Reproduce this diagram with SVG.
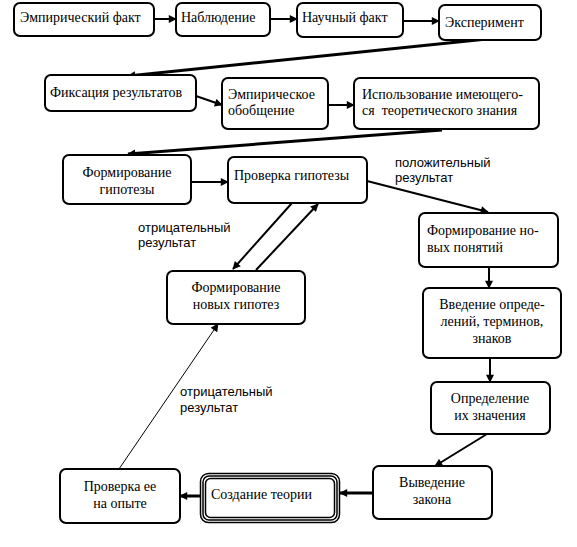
<svg xmlns="http://www.w3.org/2000/svg" width="577" height="547" viewBox="0 0 577 547">
<defs>
<marker id="ahs" viewBox="0 0 10 10" refX="9" refY="5" markerWidth="10" markerHeight="8" markerUnits="userSpaceOnUse" orient="auto"><path d="M0,0 L10,5 L0,10 z" fill="#000"/></marker>
<style>
.box{fill:#fff;stroke:#000;stroke-width:2}
.ln{fill:none;stroke:#000;stroke-width:2;marker-end:url(#ahs)}
.thick{stroke-width:3}
.thin{stroke-width:1}
</style>
</defs>
<rect width="577" height="547" fill="#fff"/>
<g id="connectors">
<line class="ln" x1="154" y1="19" x2="176" y2="19"/>
<line class="ln" x1="270" y1="19" x2="297" y2="19"/>
<line class="ln" x1="403" y1="21" x2="439" y2="21"/>
<line class="ln thick" x1="487" y1="39" x2="128" y2="76"/>
<line class="ln" x1="196" y1="96" x2="222" y2="105"/>
<line class="ln" x1="328" y1="105" x2="354" y2="105"/>
<line class="ln thick" x1="442" y1="130" x2="128" y2="154"/>
<line class="ln" x1="191" y1="182" x2="228" y2="182"/>
<line class="ln" x1="367" y1="181" x2="488" y2="212"/>
<line class="ln" x1="292" y1="203" x2="233" y2="269"/>
<line class="ln" x1="256" y1="270" x2="318" y2="204"/>
<line class="ln" x1="489" y1="267" x2="489" y2="288"/>
<line class="ln" x1="490" y1="358" x2="490" y2="382"/>
<line class="ln" x1="487" y1="434" x2="435" y2="466"/>
<line class="ln thick" x1="373" y1="493" x2="340" y2="493"/>
<line class="ln thick" x1="200" y1="496" x2="180" y2="496"/>
<line class="ln thin" x1="119" y1="469" x2="218" y2="324"/>
</g>
<g id="n1"><rect class="box" x="14" y="3" width="140" height="33" rx="6"/><text font-family="Liberation Serif" font-size="14" x="20" y="22">Эмпирический факт</text></g>
<g id="n2"><rect class="box" x="176" y="3" width="94" height="33" rx="6"/><text font-family="Liberation Serif" font-size="14" x="181" y="22">Наблюдение</text></g>
<g id="n3"><rect class="box" x="297" y="3" width="106" height="34" rx="6"/><text font-family="Liberation Serif" font-size="14" x="302" y="22">Научный факт</text></g>
<g id="n4"><rect class="box" x="439" y="5" width="102" height="35" rx="6"/><text font-family="Liberation Serif" font-size="14" x="445" y="27">Эксперимент</text></g>
<g id="n5"><rect class="box" x="45" y="75" width="151" height="36" rx="6"/><text font-family="Liberation Serif" font-size="14" x="50" y="97">Фиксация результатов</text></g>
<g id="n6"><rect class="box" x="222" y="78" width="106" height="51" rx="6"/><text font-family="Liberation Serif" font-size="14" x="228" y="99">Эмпирическое</text><text font-family="Liberation Serif" font-size="14" x="228" y="115">обобщение</text></g>
<g id="n7"><rect class="box" x="354" y="78" width="185" height="51" rx="6"/><text font-family="Liberation Serif" font-size="14" x="362" y="99">Использование имеющего-</text><text font-family="Liberation Serif" font-size="14" x="362" y="115" xml:space="preserve">ся  теоретического знания</text></g>
<g id="n8"><rect class="box" x="63" y="155" width="128" height="49" rx="6"/><text font-family="Liberation Serif" font-size="14" text-anchor="middle" x="127" y="177">Формирование</text><text font-family="Liberation Serif" font-size="14" text-anchor="middle" x="127" y="194">гипотезы</text></g>
<g id="n9"><rect class="box" x="228" y="157" width="139" height="46" rx="6"/><text font-family="Liberation Serif" font-size="14" x="234" y="180">Проверка гипотезы</text></g>
<g id="n10"><rect class="box" x="419" y="213" width="139" height="54" rx="6"/><text font-family="Liberation Serif" font-size="14" x="427" y="235">Формирование но-</text><text font-family="Liberation Serif" font-size="14" x="427" y="252">вых понятий</text></g>
<g id="n11"><rect class="box" x="167" y="271" width="138" height="53" rx="6"/><text font-family="Liberation Serif" font-size="14" text-anchor="middle" x="236" y="292">Формирование</text><text font-family="Liberation Serif" font-size="14" text-anchor="middle" x="236" y="309">новых гипотез</text></g>
<g id="n12"><rect class="box" x="423" y="288" width="138" height="70" rx="6"/><text font-family="Liberation Serif" font-size="14" text-anchor="middle" x="492" y="309">Введение опреде-</text><text font-family="Liberation Serif" font-size="14" text-anchor="middle" x="492" y="326">лений, терминов,</text><text font-family="Liberation Serif" font-size="14" text-anchor="middle" x="492" y="343">знаков</text></g>
<g id="n13"><rect class="box" x="431" y="382" width="119" height="52" rx="6"/><text font-family="Liberation Serif" font-size="14" text-anchor="middle" x="490" y="403">Определение</text><text font-family="Liberation Serif" font-size="14" text-anchor="middle" x="490" y="420">их значения</text></g>
<g id="n14"><rect class="box" x="373" y="466" width="119" height="53" rx="6"/><text font-family="Liberation Serif" font-size="14" text-anchor="middle" x="432" y="487">Выведение</text><text font-family="Liberation Serif" font-size="14" text-anchor="middle" x="432" y="504">закона</text></g>
<g id="n15"><rect fill="#fff" stroke="#000" stroke-width="1.5" x="200.5" y="473.5" width="139" height="49" rx="8"/><rect fill="none" stroke="#000" stroke-width="1.5" x="203" y="476" width="134" height="44" rx="6"/><rect fill="none" stroke="#000" stroke-width="1.5" x="205.5" y="478.5" width="129" height="39" rx="5"/><text font-family="Liberation Serif" font-size="14" x="211" y="499">Создание теории</text></g>
<g id="n16"><rect class="box" x="60" y="469" width="120" height="54" rx="6"/><text font-family="Liberation Serif" font-size="14" text-anchor="middle" x="120" y="491">Проверка ее</text><text font-family="Liberation Serif" font-size="14" text-anchor="middle" x="120" y="508">на опыте</text></g>
<g id="labels">
<text font-family="Liberation Sans" font-size="13" x="395" y="167">положительный</text><text font-family="Liberation Sans" font-size="13" x="395" y="182">результат</text>
<text font-family="Liberation Sans" font-size="13" x="138" y="232">отрицательный</text><text font-family="Liberation Sans" font-size="13" x="138" y="247">результат</text>
<text font-family="Liberation Sans" font-size="13" x="180" y="396">отрицательный</text><text font-family="Liberation Sans" font-size="13" x="180" y="412">результат</text>
</g>
</svg>
